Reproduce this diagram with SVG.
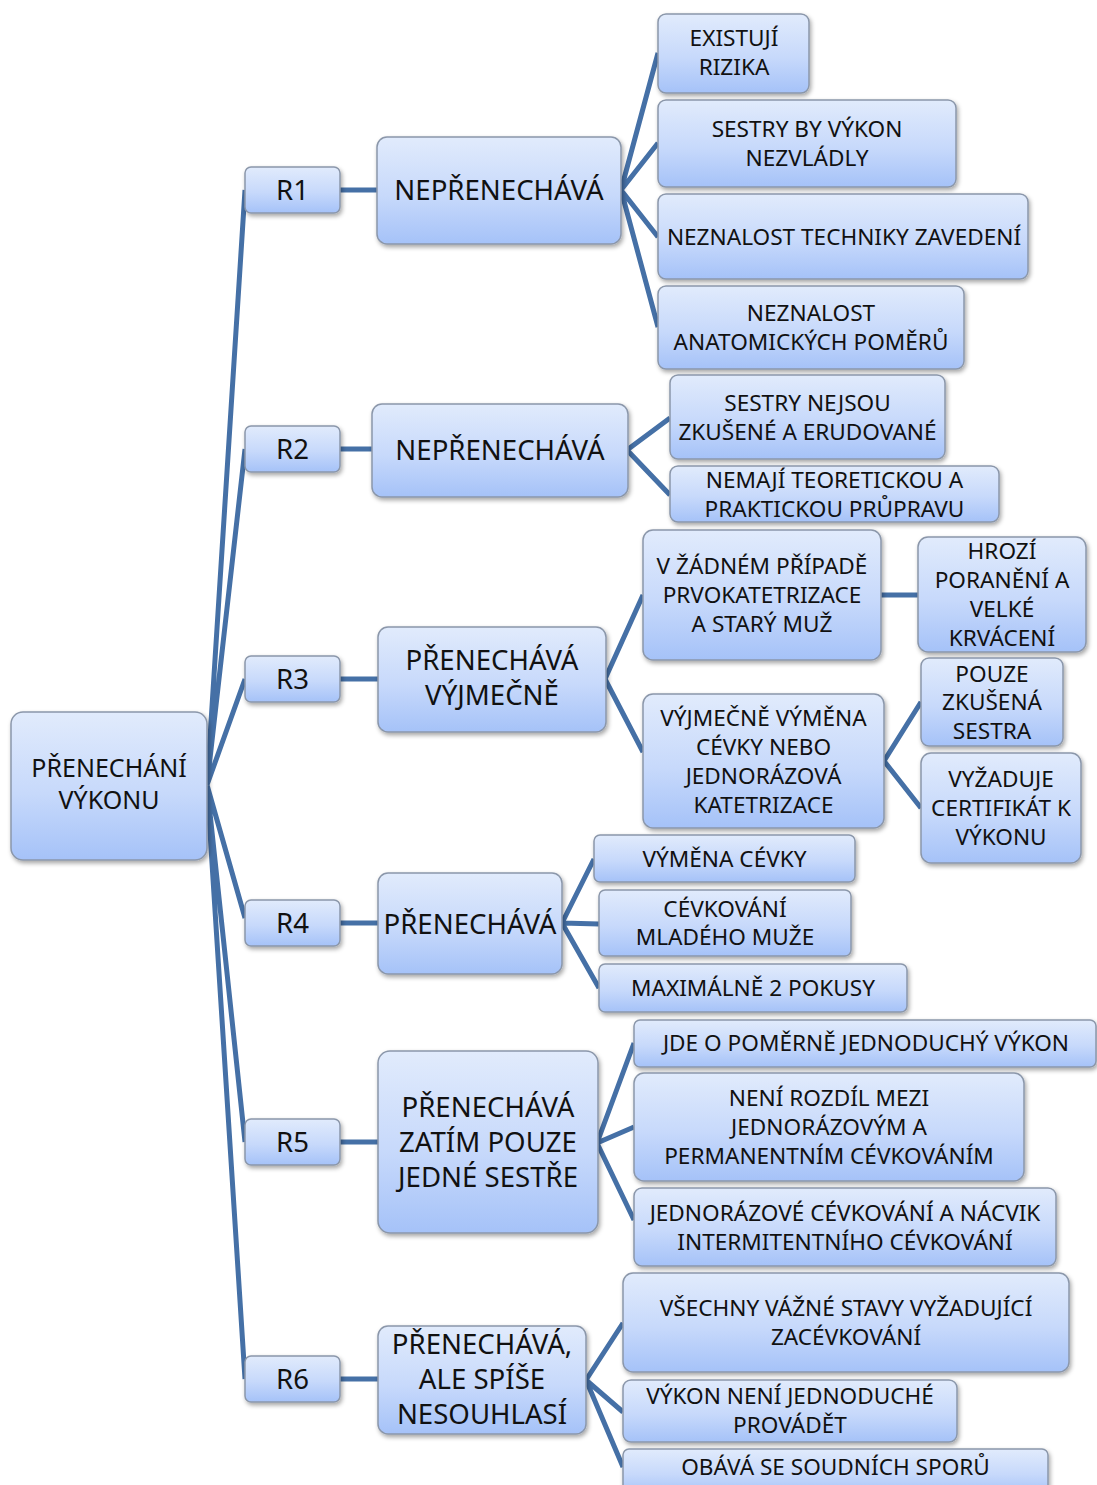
<svg xmlns="http://www.w3.org/2000/svg" width="1097" height="1485" viewBox="0 0 1097 1485">
  <style>
    .box { fill: url(#boxFill); stroke: #8b97aa; stroke-width: 1.5; filter: url(#shadow); }
    .t { font-family: "Noto Sans", "Open Sans", "DejaVu Sans", sans-serif; fill: #111; text-anchor: middle; }
    .s22 { font-size: 22.6px; }
    .s24 { font-size: 25px; }
    .s27 { font-size: 27.6px; }
    .link { fill: none; stroke: #4570a6; stroke-width: 5; stroke-linecap: butt; }
  </style>
  <defs>
    <linearGradient id="boxFill" x1="0" y1="0" x2="0" y2="1">
      <stop offset="0" stop-color="#e1ebfc"/>
      <stop offset="0.55" stop-color="#c7d9fb"/>
      <stop offset="1" stop-color="#a5c2f8"/>
    </linearGradient>
    <filter id="shadow" x="-10%" y="-10%" width="120%" height="130%">
      <feDropShadow dx="1.5" dy="2.5" stdDeviation="2" flood-color="#000" flood-opacity="0.35"/>
    </filter>
  </defs>
  <rect width="1097" height="1485" fill="#fff"/>

  <!-- connectors -->
  <g id="connectors" class="link">
    <path d="M207 785 L245 190 M207 785 L245 449 M207 785 L245 679 M207 785 L245 918 M207 785 L245 1142 M207 785 L245 1379"/>
    <path d="M340 190 H377 M340 449 H372 M340 679 H378 M340 923 H378 M340 1142 H378 M340 1379 H378"/>
    <path d="M621 190 L658 53 M621 190 L658 143 M621 190 L658 237 M621 190 L658 327"/>
    <path d="M627 450 L670 418 M627 450 L670 495"/>
    <path d="M605 679 L643 595 M605 679 L643 752"/>
    <path d="M881 595 H918"/>
    <path d="M884 761 L921 702 M884 761 L921 808"/>
    <path d="M562 923 L594 859 M562 923 L599 924 M562 923 L599 988"/>
    <path d="M597 1143 L634 1043 M597 1143 L634 1127 M597 1143 L634 1220"/>
    <path d="M586 1380 L623 1323 M586 1380 L623 1412 M586 1380 L623 1467"/>
  </g>

  <!-- root -->
  <g id="root">
    <rect class="box" x="11" y="712" width="196" height="148" rx="12"/>
    <text class="t s24" x="109" y="777">PŘENECHÁNÍ</text>
    <text class="t s24" x="109" y="809">VÝKONU</text>
  </g>

  <!-- respondents -->
  <g id="r1"><rect class="box" x="245" y="167" width="95" height="46" rx="6"/><text class="t s27" x="292.5" y="200">R1</text></g>
  <g id="r2"><rect class="box" x="245" y="426" width="95" height="46" rx="6"/><text class="t s27" x="292.5" y="459">R2</text></g>
  <g id="r3"><rect class="box" x="245" y="656" width="95" height="46" rx="6"/><text class="t s27" x="292.5" y="689">R3</text></g>
  <g id="r4"><rect class="box" x="245" y="900" width="95" height="46" rx="6"/><text class="t s27" x="292.5" y="933">R4</text></g>
  <g id="r5"><rect class="box" x="245" y="1119" width="95" height="46" rx="6"/><text class="t s27" x="292.5" y="1152">R5</text></g>
  <g id="r6"><rect class="box" x="245" y="1356" width="95" height="46" rx="6"/><text class="t s27" x="292.5" y="1389">R6</text></g>

  <!-- answers -->
  <g id="n1"><rect class="box" x="377" y="137" width="244" height="107" rx="10"/><text class="t s27" x="499" y="200">NEPŘENECHÁVÁ</text></g>
  <g id="n2"><rect class="box" x="372" y="404" width="256" height="93" rx="10"/><text class="t s27" x="500" y="460">NEPŘENECHÁVÁ</text></g>
  <g id="n3"><rect class="box" x="378" y="627" width="228" height="105" rx="10"/>
    <text class="t s27" x="492" y="670">PŘENECHÁVÁ</text><text class="t s27" x="492" y="705">VÝJMEČNĚ</text></g>
  <g id="n4"><rect class="box" x="378" y="873" width="184" height="101" rx="10"/><text class="t s27" x="470" y="934">PŘENECHÁVÁ</text></g>
  <g id="n5"><rect class="box" x="378" y="1051" width="220" height="182" rx="12"/>
    <text class="t s27" x="488" y="1117">PŘENECHÁVÁ</text><text class="t s27" x="488" y="1152">ZATÍM POUZE</text><text class="t s27" x="488" y="1187">JEDNÉ SESTŘE</text></g>
  <g id="n6"><rect class="box" x="378" y="1326" width="208" height="108" rx="10"/>
    <text class="t s27" x="482" y="1354">PŘENECHÁVÁ,</text><text class="t s27" x="482" y="1389">ALE SPÍŠE</text><text class="t s27" x="482" y="1424">NESOUHLASÍ</text></g>

  <!-- reasons for R1 -->
  <g id="n1a"><rect class="box" x="658" y="14" width="151" height="79" rx="8"/>
    <text class="t s22" x="734" y="46">EXISTUJÍ</text><text class="t s22" x="734" y="75">RIZIKA</text></g>
  <g id="n1b"><rect class="box" x="658" y="100" width="298" height="87" rx="8"/>
    <text class="t s22" x="807" y="137">SESTRY BY VÝKON</text><text class="t s22" x="807" y="166">NEZVLÁDLY</text></g>
  <g id="n1c"><rect class="box" x="658" y="194" width="370" height="85" rx="8"/>
    <text class="t s22" x="844" y="245">NEZNALOST TECHNIKY ZAVEDENÍ</text></g>
  <g id="n1d"><rect class="box" x="658" y="286" width="306" height="83" rx="8"/>
    <text class="t s22" x="811" y="321">NEZNALOST</text><text class="t s22" x="811" y="350">ANATOMICKÝCH POMĚRŮ</text></g>

  <!-- reasons for R2 -->
  <g id="n2a"><rect class="box" x="670" y="375" width="275" height="84" rx="8"/>
    <text class="t s22" x="807.5" y="411">SESTRY NEJSOU</text><text class="t s22" x="807.5" y="440">ZKUŠENÉ A ERUDOVANÉ</text></g>
  <g id="n2b"><rect class="box" x="670" y="466" width="329" height="56" rx="8"/>
    <text class="t s22" x="834.5" y="488">NEMAJÍ TEORETICKOU A</text><text class="t s22" x="834.5" y="517">PRAKTICKOU PRŮPRAVU</text></g>

  <!-- reasons for R3 -->
  <g id="n3a"><rect class="box" x="643" y="530" width="238" height="130" rx="10"/>
    <text class="t s22" x="762" y="574">V ŽÁDNÉM PŘÍPADĚ</text><text class="t s22" x="762" y="603">PRVOKATETRIZACE</text><text class="t s22" x="762" y="632">A STARÝ MUŽ</text></g>
  <g id="n3b"><rect class="box" x="643" y="694" width="241" height="134" rx="10"/>
    <text class="t s22" x="763.5" y="726">VÝJMEČNĚ VÝMĚNA</text><text class="t s22" x="763.5" y="755">CÉVKY NEBO</text><text class="t s22" x="763.5" y="784">JEDNORÁZOVÁ</text><text class="t s22" x="763.5" y="813">KATETRIZACE</text></g>
  <g id="n3a1"><rect class="box" x="918" y="537" width="168" height="115" rx="10"/>
    <text class="t s22" x="1002" y="559">HROZÍ</text><text class="t s22" x="1002" y="588">PORANĚNÍ A</text><text class="t s22" x="1002" y="617">VELKÉ</text><text class="t s22" x="1002" y="646">KRVÁCENÍ</text></g>
  <g id="n3b1"><rect class="box" x="921" y="658" width="142" height="88" rx="8"/>
    <text class="t s22" x="992" y="682">POUZE</text><text class="t s22" x="992" y="710">ZKUŠENÁ</text><text class="t s22" x="992" y="739">SESTRA</text></g>
  <g id="n3b2"><rect class="box" x="921" y="753" width="160" height="110" rx="10"/>
    <text class="t s22" x="1001" y="787">VYŽADUJE</text><text class="t s22" x="1001" y="816">CERTIFIKÁT K</text><text class="t s22" x="1001" y="845">VÝKONU</text></g>

  <!-- reasons for R4 -->
  <g id="n4a"><rect class="box" x="594" y="835" width="261" height="47" rx="6"/>
    <text class="t s22" x="724.5" y="867">VÝMĚNA CÉVKY</text></g>
  <g id="n4b"><rect class="box" x="599" y="890" width="252" height="66" rx="6"/>
    <text class="t s22" x="725" y="917">CÉVKOVÁNÍ</text><text class="t s22" x="725" y="945">MLADÉHO MUŽE</text></g>
  <g id="n4c"><rect class="box" x="599" y="964" width="308" height="48" rx="6"/>
    <text class="t s22" x="753" y="996">MAXIMÁLNĚ 2 POKUSY</text></g>

  <!-- reasons for R5 -->
  <g id="n5a"><rect class="box" x="634" y="1020" width="462" height="47" rx="6"/>
    <text class="t s22" x="866" y="1051">JDE O POMĚRNĚ JEDNODUCHÝ VÝKON</text></g>
  <g id="n5b"><rect class="box" x="634" y="1073" width="390" height="108" rx="10"/>
    <text class="t s22" x="829" y="1106">NENÍ ROZDÍL MEZI</text><text class="t s22" x="829" y="1135">JEDNORÁZOVÝM A</text><text class="t s22" x="829" y="1164">PERMANENTNÍM CÉVKOVÁNÍM</text></g>
  <g id="n5c"><rect class="box" x="634" y="1188" width="422" height="78" rx="8"/>
    <text class="t s22" x="845" y="1221">JEDNORÁZOVÉ CÉVKOVÁNÍ A NÁCVIK</text><text class="t s22" x="845" y="1250">INTERMITENTNÍHO CÉVKOVÁNÍ</text></g>

  <!-- reasons for R6 -->
  <g id="n6a"><rect class="box" x="623" y="1273" width="446" height="99" rx="10"/>
    <text class="t s22" x="846" y="1316">VŠECHNY VÁŽNÉ STAVY VYŽADUJÍCÍ</text><text class="t s22" x="846" y="1345">ZACÉVKOVÁNÍ</text></g>
  <g id="n6b"><rect class="box" x="623" y="1380" width="334" height="62" rx="8"/>
    <text class="t s22" x="790" y="1404">VÝKON NENÍ JEDNODUCHÉ</text><text class="t s22" x="790" y="1433">PROVÁDĚT</text></g>
  <g id="n6c"><rect class="box" x="623" y="1449" width="425" height="46" rx="6"/>
    <text class="t s22" x="835.5" y="1475">OBÁVÁ SE SOUDNÍCH SPORŮ</text></g>
</svg>
